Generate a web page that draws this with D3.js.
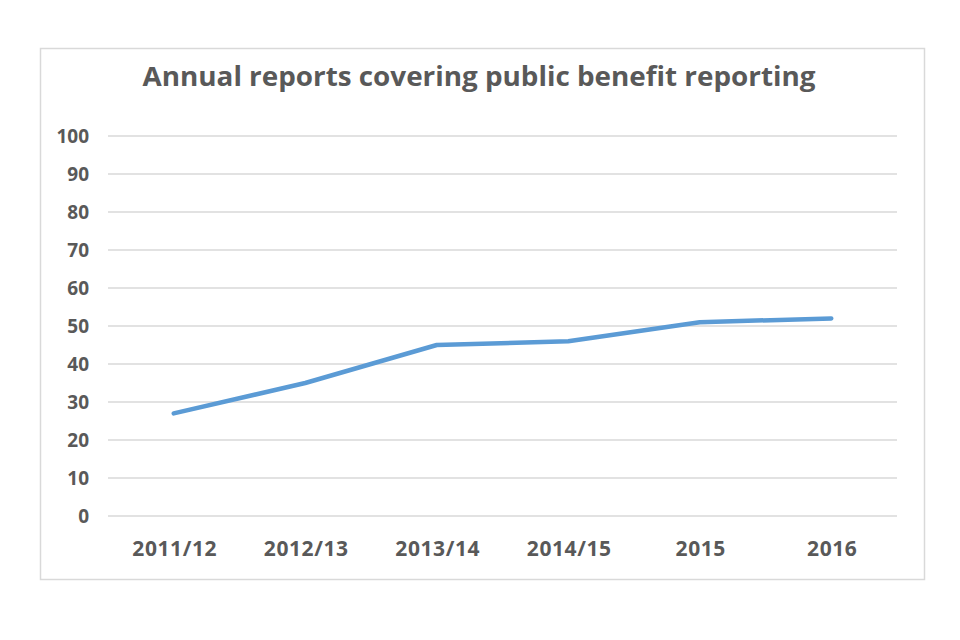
<!DOCTYPE html>
<html>
<head>
<meta charset="utf-8">
<script src="https://cdn.jsdelivr.net/npm/d3@7"></script>
<style>
  body { margin: 0; background: #fff; }
  text { font-family: "Open Sans", "Liberation Sans", sans-serif; fill: #595959; font-weight: bold; }
</style>
</head>
<body>
<script>
// chart values
var years = ["2011/12", "2012/13", "2013/14", "2014/15", "2015", "2016"];
var reports = [27, 35, 45, 46, 51, 52];
var yTicks = [0, 10, 20, 30, 40, 50, 60, 70, 80, 90, 100];
var title = "Annual reports covering public benefit reporting";

var width = 960, height = 640;

var svg = d3.select("body").append("svg")
    .attr("width", width)
    .attr("height", height);

// outer frame
svg.append("rect")
    .attr("x", 40.5).attr("y", 48.5)
    .attr("width", 884).attr("height", 531)
    .attr("fill", "#fff")
    .attr("stroke", "#d9d9d9")
    .attr("stroke-width", 1.5);

// title
svg.append("text")
    .attr("x", 479).attr("y", 86)
    .attr("text-anchor", "middle")
    .attr("font-size", 26)
    .attr("textLength", 673)
    .attr("lengthAdjust", "spacingAndGlyphs")
    .text(title);

var x = d3.scaleBand().domain(years).range([108, 897]);
var y = d3.scaleLinear().domain([0, 100]).range([516, 136]);

// gridlines
svg.append("g")
    .selectAll("line")
    .data(yTicks)
    .enter()
    .append("line")
    .attr("x1", 108).attr("x2", 897)
    .attr("y1", function(d){ return y(d); })
    .attr("y2", function(d){ return y(d); })
    .attr("stroke", "#d9d9d9")
    .attr("stroke-width", 1.5);

// y axis labels
var yAxis = d3.axisLeft(y).tickValues(yTicks).tickSize(0).tickPadding(0);
svg.append("g")
    .attr("transform", "translate(89,0)")
    .call(yAxis)
    .call(function(g){ g.select(".domain").remove(); })
    .selectAll("text")
    .attr("font-size", 19)
    .attr("font-family", null)
    .attr("fill", "#595959");

// x axis labels
var xAxis = d3.axisBottom(x).tickSize(0).tickPadding(0);
svg.append("g")
    .attr("transform", "translate(1,541)")
    .call(xAxis)
    .call(function(g){ g.select(".domain").remove(); })
    .selectAll("text")
    .attr("font-size", 21)
    .attr("letter-spacing", 0.6)
    .attr("font-family", null)
    .attr("fill", "#595959");

// the line
var line = d3.line()
    .x(function(d, i){ return x(years[i]) + x.bandwidth() / 2; })
    .y(function(d){ return y(d); });

svg.append("path")
    .datum(reports)
    .attr("d", line)
    .attr("fill", "none")
    .attr("stroke", "#5b9bd5")
    .attr("stroke-width", 4.5)
    .attr("stroke-linecap", "round")
    .attr("stroke-linejoin", "round");
</script>
</body>
</html>
